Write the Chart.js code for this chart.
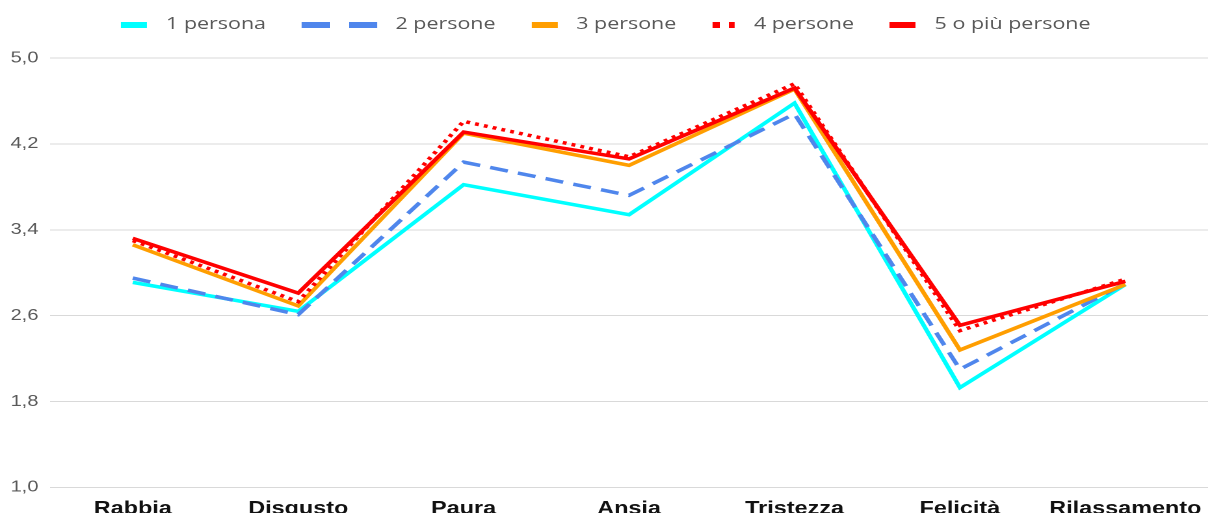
<!DOCTYPE html>
<html lang="it">
<head>
<meta charset="utf-8">
<title>Emozioni per numero di persone</title>
<script src="https://cdn.jsdelivr.net/npm/chart.js@4.4.1/dist/chart.umd.min.js"></script>
<style>
    html, body { margin: 0; padding: 0; background: #fff; overflow: hidden; }
    /* chart is laid out narrow and widened to the page width */
    #stage { position: relative; width: 932px; height: 531px; transform: scaleX(1.3004); transform-origin: 0 0; }
    #legend { position: absolute; top: 10px; left: 0; width: 100%; display: flex; justify-content: center; align-items: center;
              font: 16.5px "Open Sans", sans-serif; color: #595959; line-height: 26px; }
    #legend .item { display: flex; align-items: center; margin: 0 13.85px; }
    #legend .swatch { height: 6px; margin-right: 14.3px; position: relative; top: 2px; }
    #chart-box { position: absolute; left: 0; top: 0; width: 932px; height: 531px; }
</style>
</head>
<body>
<div id="stage">
    <div id="legend"></div>
    <div id="chart-box"><canvas id="emotion-chart"></canvas></div>
</div>
<script>
// Emotions (x axis) and mean scores by household size
const categories = ['Rabbia', 'Disgusto', 'Paura', 'Ansia', 'Tristezza', 'Felicità', 'Rilassamento'];
const seriesNames = ['1 persona', '2 persone', '3 persone', '4 persone', '5 o più persone'];

const onePerson = [2.91, 2.64, 3.82, 3.54, 4.58, 1.93, 2.89];
const twoPeople = [2.95, 2.61, 4.03, 3.72, 4.48, 2.10, 2.90];
const threePeople = [3.26, 2.69, 4.30, 4.00, 4.71, 2.28, 2.89];
const fourPeople = [3.30, 2.73, 4.41, 4.08, 4.76, 2.46, 2.94];
const fivePlusPeople = [3.32, 2.81, 4.31, 4.06, 4.72, 2.51, 2.92];

const yTickValues = [1.0, 1.8, 2.6, 3.4, 4.2, 5.0];
const yTickLabels = ['1,0', '1,8', '2,6', '3,4', '4,2', '5,0'];

// line styles and legend samples (dash segments: on, off, on ...)
const lineColors = ['#00FFFF', '#4F86EC', '#FF9E00', '#FF0000', '#FF0000'];
const lineDashes = [[], [14, 8], [], [3, 4], []];
const legendSamples = [[20], [21.5, 14.5, 21.5], [20], [5.4, 6.9, 5.4], [20]];

const seriesValues = [onePerson, twoPeople, threePeople, fourPeople, fivePlusPeople];

const datasets = seriesNames.map((name, i) => ({
    label: name,
    data: seriesValues[i],
    borderColor: lineColors[i],
    backgroundColor: lineColors[i],
    borderDash: lineDashes[i],
    borderCapStyle: 'butt',
    borderJoinStyle: 'miter',
    borderWidth: 3.5,
    pointRadius: 0,
    tension: 0,
    fill: false,
    // later series drawn on top
    order: seriesNames.length - i
}));

// HTML legend built from the chart datasets
const htmlLegend = {
    id: 'htmlLegend',
    afterUpdate(chart) {
        const box = document.getElementById('legend');
        box.innerHTML = '';
        chart.data.datasets.forEach((ds, i) => {
            const item = document.createElement('span');
            item.className = 'item';
            const swatch = document.createElement('span');
            swatch.className = 'swatch';
            let pos = 0;
            const stops = [];
            legendSamples[i].forEach((len, k) => {
                const c = k % 2 === 0 ? ds.borderColor : 'transparent';
                stops.push(`${c} ${pos}px ${pos + len}px`);
                pos += len;
            });
            swatch.style.width = pos + 'px';
            swatch.style.background = `linear-gradient(90deg, ${stops.join(', ')})`;
            const text = document.createElement('span');
            text.textContent = ds.label;
            item.appendChild(swatch);
            item.appendChild(text);
            box.appendChild(item);
        });
    }
};

const ctx = document.getElementById('emotion-chart').getContext('2d');
new Chart(ctx, {
    type: 'line',
    data: { labels: categories, datasets: datasets },
    plugins: [htmlLegend],
    options: {
        responsive: true,
        maintainAspectRatio: false,
        animation: false,
        devicePixelRatio: 2,
        layout: { autoPadding: false, padding: { top: 58, left: 8, right: 3, bottom: 0 } },
        plugins: {
            legend: { display: false },
            tooltip: { enabled: false }
        },
        scales: {
            x: {
                offset: true,
                // labels sit inside the category bands, no extra side room needed
                afterFit: axis => {
                    axis.paddingLeft = 0;
                    axis.paddingRight = 0;
                },
                grid: { display: false, drawTicks: false },
                border: { display: false },
                ticks: {
                    color: '#111',
                    padding: 11,
                    autoSkip: false,
                    maxRotation: 0,
                    font: { family: '"Liberation Sans", Arial, sans-serif', size: 18, weight: 'bold' }
                }
            },
            y: {
                min: 1,
                max: 5,
                afterBuildTicks: axis => {
                    axis.ticks = yTickValues.map(v => ({ value: v }));
                },
                afterFit: axis => {
                    axis.width = 30.5;
                },
                grid: { color: '#d9d9d9', lineWidth: 1, drawTicks: false },
                border: { display: false },
                ticks: {
                    color: '#595959',
                    padding: 9,
                    font: { family: '"Liberation Sans", Arial, sans-serif', size: 15.4 },
                    callback: (value) => yTickLabels[yTickValues.indexOf(value)] ?? value.toFixed(1).replace('.', ',')
                }
            }
        }
    }
});
</script>
</body>
</html>
